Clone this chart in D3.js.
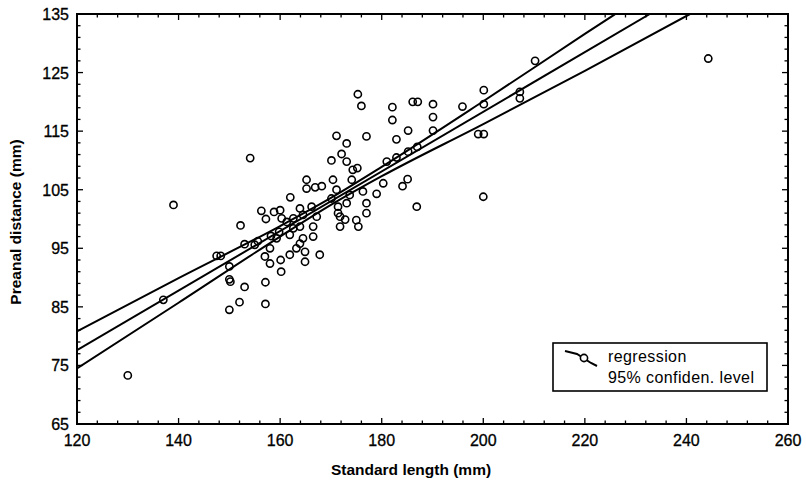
<!DOCTYPE html>
<html>
<head>
<meta charset="utf-8">
<script src="https://cdn.jsdelivr.net/npm/d3@7"></script>
<style>
  body { margin: 0; background: #fff; }
  svg { display: block; font-family: "Liberation Sans", Arial, sans-serif; }
</style>
</head>
<body>
<svg id="chart" width="806" height="485"></svg>
<script>
// scatter data (standard length vs preanal distance)
var lengthMm = [130, 137, 139, 147.5, 148.3, 150, 150, 150.2, 150, 152, 152.2, 153, 153, 154.1, 155,
    155.6, 156.3, 157.1, 157.1, 157.2, 157, 158, 158.2, 158, 158.8, 159.3, 159.8, 160, 160.3, 160.2,
    160.1, 162, 161.9, 161.9, 161.3, 162.6, 162.6, 163.9, 163.9, 164.5, 163.2, 164.9, 164.9, 164.5,
    163.9, 165.2, 165.2, 166.9, 168.2, 167.8, 166.5, 166.5, 166.2, 167.2, 170.1, 171.1, 172.1, 173.1,
    173.1, 174.3, 175.2, 175.3, 176, 177, 170.4, 174.1, 171.1, 170.1, 173.7, 176.3, 171.4, 171.4,
    173.1, 171.8, 172.8, 171.8, 175, 175.4, 177, 177, 179, 180.3, 181, 182.1, 182.1, 182.9, 182.9,
    184.1, 185.1, 185.2, 185.2, 186.1, 187.1, 186.9, 187, 190.1, 190.1, 190.1, 195.9, 199, 200.1,
    200.1, 200.1, 200, 207.2, 207.2, 210.2, 244.3];
var preanalMm = [73.3, 86.2, 102.4, 93.7, 93.7, 91.9, 89.7, 89.3, 84.5, 85.8, 98.9, 88.4, 95.7, 110.4, 95.6,
    96.2, 101.4, 89.2, 85.5, 100, 93.6, 92.4, 97.1, 95, 101.2, 96.7, 97.8, 101.5, 100.1, 91,
    93, 103.7, 93.9, 97.3, 99.5, 100.1, 98.4, 101.8, 98.7, 96.7, 95, 94.4, 92.7, 100.7,
    95.8, 106.7, 105.2, 105.4, 105.6, 93.9, 97, 98.7, 102.1, 100.4, 110, 114.2, 111.1, 112.9,
    109.8, 108.4, 108.7, 121.3, 119.3, 114.1, 106.7, 106.7, 105, 103.5, 104.1, 104.7, 102.1, 101,
    102.7, 100.4, 99.9, 98.7, 99.8, 98.7, 101, 102.7, 104.3, 106.1, 109.8, 119.1, 116.9, 113.6, 110.5,
    105.6, 106.8, 111.5, 115.1, 120, 120, 102.1, 112.3, 119.6, 117.4, 115.1, 119.2, 114.5, 114.5,
    119.6, 122, 103.8, 121.7, 120.6, 127, 127.4];

// fitted line and 95% band
var regX = [120, 232.8];
var regY = [77.6, 135];
var upperX = [120, 140, 160, 170, 180, 200, 220, 226];
var upperY = [80.8, 89.9, 98.8, 103.6, 108.9, 120.1, 131.6, 135];
var lowerX = [120, 140, 160, 170, 180, 200, 220, 240.7];
var lowerY = [74.5, 85.7, 97.0, 102.4, 107.3, 116.2, 125.3, 135];

// axes
var xTicks = [120, 140, 160, 180, 200, 220, 240, 260];
var yTicks = [65, 75, 85, 95, 105, 115, 125, 135];
var legendLabels = ["regression", "95% confiden. level"];

var plotLeft = 77, plotRight = 788, plotTop = 14, plotBottom = 424;

var svg = d3.select("#chart");

var x = d3.scaleLinear().domain([120, 260]).range([plotLeft, plotRight]);
var y = d3.scaleLinear().domain([65, 135]).range([plotBottom, plotTop]);

svg.append("rect")
    .attr("width", 806)
    .attr("height", 485)
    .attr("fill", "#fff");

svg.append("clipPath")
    .attr("id", "plot-clip")
    .append("rect")
    .attr("x", plotLeft)
    .attr("y", plotTop)
    .attr("width", plotRight - plotLeft)
    .attr("height", plotBottom - plotTop);

/*
 * draws inward ticks on all four sides
 */
function renderTicks(svg) {
    var minorX = d3.range(120, 260.01, 4);
    var minorY = d3.range(65, 135.01, 2);

    var g = svg.append("g")
        .attr("stroke", "#000")
        .attr("stroke-width", 1.3);

    minorX.forEach(function(v) {
        var len = (xTicks.indexOf(v) >= 0) ? 6 : 3.5;
        g.append("line").attr("x1", x(v)).attr("x2", x(v))
            .attr("y1", plotBottom).attr("y2", plotBottom - len);
        g.append("line").attr("x1", x(v)).attr("x2", x(v))
            .attr("y1", plotTop).attr("y2", plotTop + len);
    });

    minorY.forEach(function(v) {
        var len = (yTicks.indexOf(v) >= 0) ? 6 : 3.5;
        g.append("line").attr("y1", y(v)).attr("y2", y(v))
            .attr("x1", plotLeft).attr("x2", plotLeft + len);
        g.append("line").attr("y1", y(v)).attr("y2", y(v))
            .attr("x1", plotRight).attr("x2", plotRight - len);
    });
}

renderTicks(svg);

// frame
svg.append("rect")
    .attr("x", plotLeft)
    .attr("y", plotTop)
    .attr("width", plotRight - plotLeft)
    .attr("height", plotBottom - plotTop)
    .attr("fill", "none")
    .attr("stroke", "#000")
    .attr("stroke-width", 2);

// tick labels
svg.append("g")
    .selectAll("text")
    .data(xTicks)
    .enter().append("text")
    .attr("x", function(d) { return x(d); })
    .attr("y", 446)
    .attr("text-anchor", "middle")
    .attr("font-size", 16)
    .attr("fill", "#000")
    .attr("stroke", "#000")
    .attr("stroke-width", 0.3)
    .text(function(d) { return d; });

svg.append("g")
    .selectAll("text")
    .data(yTicks)
    .enter().append("text")
    .attr("x", 69)
    .attr("y", function(d) { return y(d) + 6; })
    .attr("text-anchor", "end")
    .attr("font-size", 16)
    .attr("fill", "#000")
    .attr("stroke", "#000")
    .attr("stroke-width", 0.3)
    .text(function(d) { return d; });

// axis titles
svg.append("text")
    .attr("x", 411)
    .attr("y", 475)
    .attr("text-anchor", "middle")
    .attr("font-size", 15.5)
    .attr("font-weight", "bold")
    .text("Standard length (mm)");

svg.append("text")
    .attr("transform", "translate(21,222) rotate(-90)")
    .attr("text-anchor", "middle")
    .attr("font-size", 15.5)
    .attr("font-weight", "bold")
    .text("Preanal distance (mm)");

// regression + confidence lines
var plot = svg.append("g").attr("clip-path", "url(#plot-clip)");

var line = d3.line()
    .x(function(d) { return x(d[0]); })
    .y(function(d) { return y(d[1]); })
    .curve(d3.curveMonotoneX);

[d3.zip(regX, regY), d3.zip(upperX, upperY), d3.zip(lowerX, lowerY)].forEach(function(pts) {
    plot.append("path")
        .attr("d", line(pts))
        .attr("fill", "none")
        .attr("stroke", "#000")
        .attr("stroke-width", 2);
});

// points
plot.append("g")
    .selectAll("circle")
    .data(d3.zip(lengthMm, preanalMm))
    .enter().append("circle")
    .attr("cx", function(d) { return x(d[0]); })
    .attr("cy", function(d) { return y(d[1]); })
    .attr("r", 3.6)
    .attr("fill", "none")
    .attr("stroke", "#000")
    .attr("stroke-width", 1.6);

// legend
var legend = svg.append("g").attr("transform", "translate(553,343)");

legend.append("rect")
    .attr("width", 214)
    .attr("height", 48)
    .attr("fill", "#fff")
    .attr("stroke", "#000")
    .attr("stroke-width", 1.6);

legend.append("path")
    .attr("d", "M12,8 L24,11 L38,20 L44,23")
    .attr("fill", "none")
    .attr("stroke", "#000")
    .attr("stroke-width", 2);

legend.append("circle")
    .attr("cx", 31)
    .attr("cy", 15)
    .attr("r", 3.6)
    .attr("fill", "#fff")
    .attr("stroke", "#000")
    .attr("stroke-width", 1.6);

legend.selectAll("text.lg")
    .data(legendLabels)
    .enter().append("text")
    .attr("class", "lg")
    .attr("x", 55)
    .attr("y", function(d, i) { return 19 + i * 21; })
    .attr("font-size", 16)
    .attr("letter-spacing", 0.4)
    .attr("fill", "#000")
    .text(function(d) { return d; });
</script>
</body>
</html>
